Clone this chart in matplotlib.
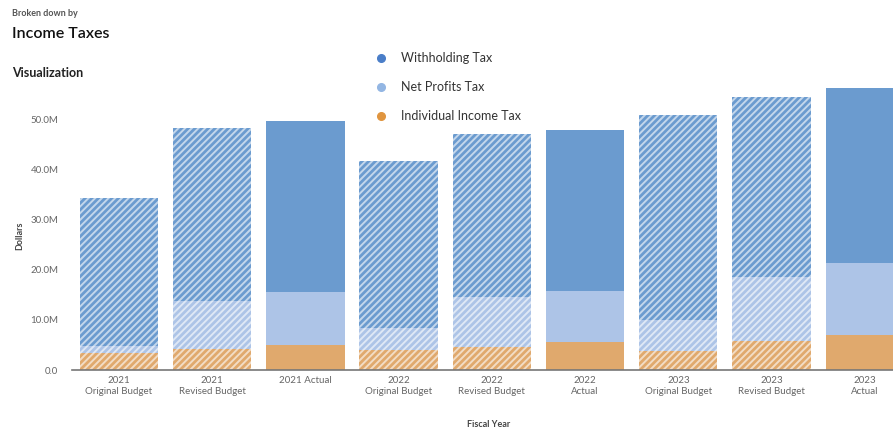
import numpy as np
import matplotlib
matplotlib.use("Agg")
import matplotlib.pyplot as plt
from matplotlib.lines import Line2D

plt.rcParams['font.family'] = ['Lato', 'DejaVu Sans']
plt.rcParams['hatch.linewidth'] = 1.4

categories = ['2021\nOriginal Budget', '2021\nRevised Budget', '2021 Actual',
              '2022\nOriginal Budget', '2022\nRevised Budget', '2022\nActual',
              '2023\nOriginal Budget', '2023\nRevised Budget', '2023\nActual']
is_budget = [True, True, False, True, True, False, True, True, False]

# values in millions of dollars
individual_income = [3.4, 4.2, 5.0, 4.0, 4.6, 5.6, 3.8, 5.8, 7.0]
net_profits = [1.4, 9.6, 10.6, 4.4, 10.0, 10.2, 6.2, 12.8, 14.4]
withholding = [29.6, 34.6, 34.2, 33.4, 32.6, 32.2, 41.0, 36.0, 35.0]

series = [('Individual Income Tax', individual_income, '#e0a96d'),
          ('Net Profits Tax', net_profits, '#adc4e7'),
          ('Withholding Tax', withholding, '#6b9bcf')]

fig = plt.figure(figsize=(8.93, 4.32), dpi=100)
ax = fig.add_axes([0.081, 0.1435, 0.925, 0.66])

x = np.arange(len(categories))
bottom = np.zeros(len(categories))
for name, vals, color in series:
    vals = np.array(vals)
    for i in range(len(categories)):
        ax.bar(x[i], vals[i], width=0.84, bottom=bottom[i], color=color,
               edgecolor=(1, 1, 1, 0.6) if is_budget[i] else color,
               linewidth=0, hatch='/////' if is_budget[i] else None)
    bottom += vals

ax.set_xlim(-0.5, 8.36)
ax.set_ylim(0, 57)
ax.set_yticks([0, 10, 20, 30, 40, 50])
ax.set_yticklabels(['0.0', '10.0M', '20.0M', '30.0M', '40.0M', '50.0M'])
ax.set_xticks(x)
ax.set_xticklabels(categories, fontsize=7, color='#666666', linespacing=1.3)
ax.tick_params(axis='y', length=0, labelsize=7, labelcolor='#666666', pad=10)
ax.tick_params(axis='x', length=0, pad=4)
for s in ['top', 'right', 'left']:
    ax.spines[s].set_visible(False)
ax.spines['bottom'].set_color('#777777')
ax.spines['bottom'].set_linewidth(1.2)

fig.text(0.022, 0.455, 'Dollars', rotation=90, fontsize=6.5, fontweight='bold',
         color='#444444', va='center', ha='center')
fig.text(0.547, 0.012, 'Fiscal Year', fontsize=6.5, fontweight='bold',
         color='#444444', ha='center')

fig.text(0.013, 0.962, 'Broken down by', fontsize=6.5, fontweight='bold', color='#555555')
fig.text(0.013, 0.912, 'Income Taxes', fontsize=11.5, fontweight='semibold', color='#111111')
fig.text(0.013, 0.822, 'Visualization', fontsize=9, fontweight='bold', color='#222222')

handles = [Line2D([0], [0], marker='o', linestyle='', markersize=5.5,
                  markerfacecolor=c, markeredgecolor=c, label=n)
           for n, c in [('Withholding Tax', '#4a7ec8'), ('Net Profits Tax', '#93b6e3'),
                        ('Individual Income Tax', '#e0953f')]]
fig.legend(handles=handles, loc='upper left', bbox_to_anchor=(0.400, 0.905),
           frameon=False, fontsize=9, labelspacing=1.35, handletextpad=0.6,
           labelcolor='#333333')

fig.savefig('out.png', dpi=100)
